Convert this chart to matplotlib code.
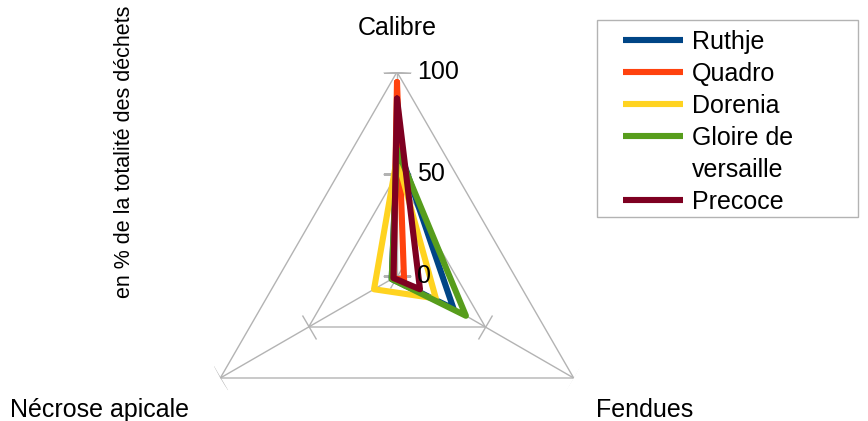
import numpy as np
import matplotlib.pyplot as plt
from matplotlib.markers import MarkerStyle
from matplotlib.transforms import Affine2D
from matplotlib.patches import Rectangle
from matplotlib.lines import Line2D

plt.rcParams['font.family'] = ['Liberation Sans', 'DejaVu Sans']

# data
categories = ['Calibre', 'Fendues', 'Nécrose apicale']
series_names = ['Ruthje', 'Quadro', 'Dorenia', 'Gloire de\nversaille', 'Precoce']
ruthje = [65, 32, 3]
quadro = [95, 4, 2]
dorenia = [58, 22, 13]
gloire = [62, 39, 3]
precoce = [87, 13, 2]
levels = [0, 50, 100]
level_labels = ['0', '50', '100']

colors = ['#004586', '#ff420e', '#ffd320', '#579d1c', '#7e0021']
values = [ruthje, quadro, dorenia, gloire, precoce]

fig = plt.figure(figsize=(8.68, 4.21), dpi=100)
W, H = 868, 421
cx, cy, R = 397, 276, 204
ax = fig.add_axes([(cx - R) / W, (H - cy - R) / H, 2 * R / W, 2 * R / H], projection='polar')
ax.set_theta_offset(np.pi / 2)
ax.set_theta_direction(-1)
ax.set_ylim(0, 100)
ax.axis('off')

angles = np.linspace(0, 2 * np.pi, len(categories), endpoint=False)
closed = np.append(angles, angles[0])

grid_col = '#b3b3b3'
# triangle grid
for lv in levels[1:]:
    ax.plot(closed, [lv] * len(closed), color=grid_col, lw=1, zorder=1)
# spokes and ticks
for a in angles:
    ax.plot([a, a], [0, 100], color=grid_col, lw=1, zorder=1)
    rot = -np.degrees(a)  # perpendicular to spoke on screen
    m = MarkerStyle('_', transform=Affine2D().rotate_deg(rot))
    ax.plot([a] * len(levels), levels, ls='none', marker=m, ms=20,
            mec=grid_col, mew=1, zorder=1)

for name, vals, c in zip(series_names, values, colors):
    ax.plot(closed, vals + vals[:1], color=c, lw=4.4, label=name,
            solid_joinstyle='round', solid_capstyle='round', zorder=3)

shift = Affine2D().translate(20, 0)
for lv, lab in zip(levels, level_labels):
    ax.text(0, lv, lab, transform=ax.transData + shift, fontsize=18,
            ha='left', va='center', zorder=4)

fig.text(cx / W, 1 - 28 / H, categories[0], ha='center', va='center', fontsize=18)
fig.text(645 / W, 1 - 410 / H, categories[1], ha='center', va='center', fontsize=18)
fig.text(100 / W, 1 - 410 / H, categories[2], ha='center', va='center', fontsize=18)
fig.text(125 / W, 1 - 152 / H, 'en % de la totalité des déchets', rotation=90,
         ha='center', va='center', fontsize=15.5)

# legend: wrapped names get one row per line, handle on the first line only
handles, labels = [], []
for name, c in zip(series_names, colors):
    for i, part in enumerate(name.split('\n')):
        handles.append(Line2D([], [], color=c if i == 0 else 'none', lw=4.4,
                              solid_capstyle='butt'))
        labels.append(part)

fig.patches.append(Rectangle((597 / W, 1 - 217 / H), 261 / W, 197 / H,
                             transform=fig.transFigure, fill=False,
                             edgecolor=grid_col, lw=1))
leg = fig.legend(handles, labels, loc='upper left',
                 bbox_to_anchor=(623 / W, 1 - 30 / H),
                 fontsize=18, frameon=False, handlelength=2.4,
                 handletextpad=0.36, labelspacing=0.32, borderpad=0,
                 borderaxespad=0)

fig.savefig('out.png', dpi=100)
